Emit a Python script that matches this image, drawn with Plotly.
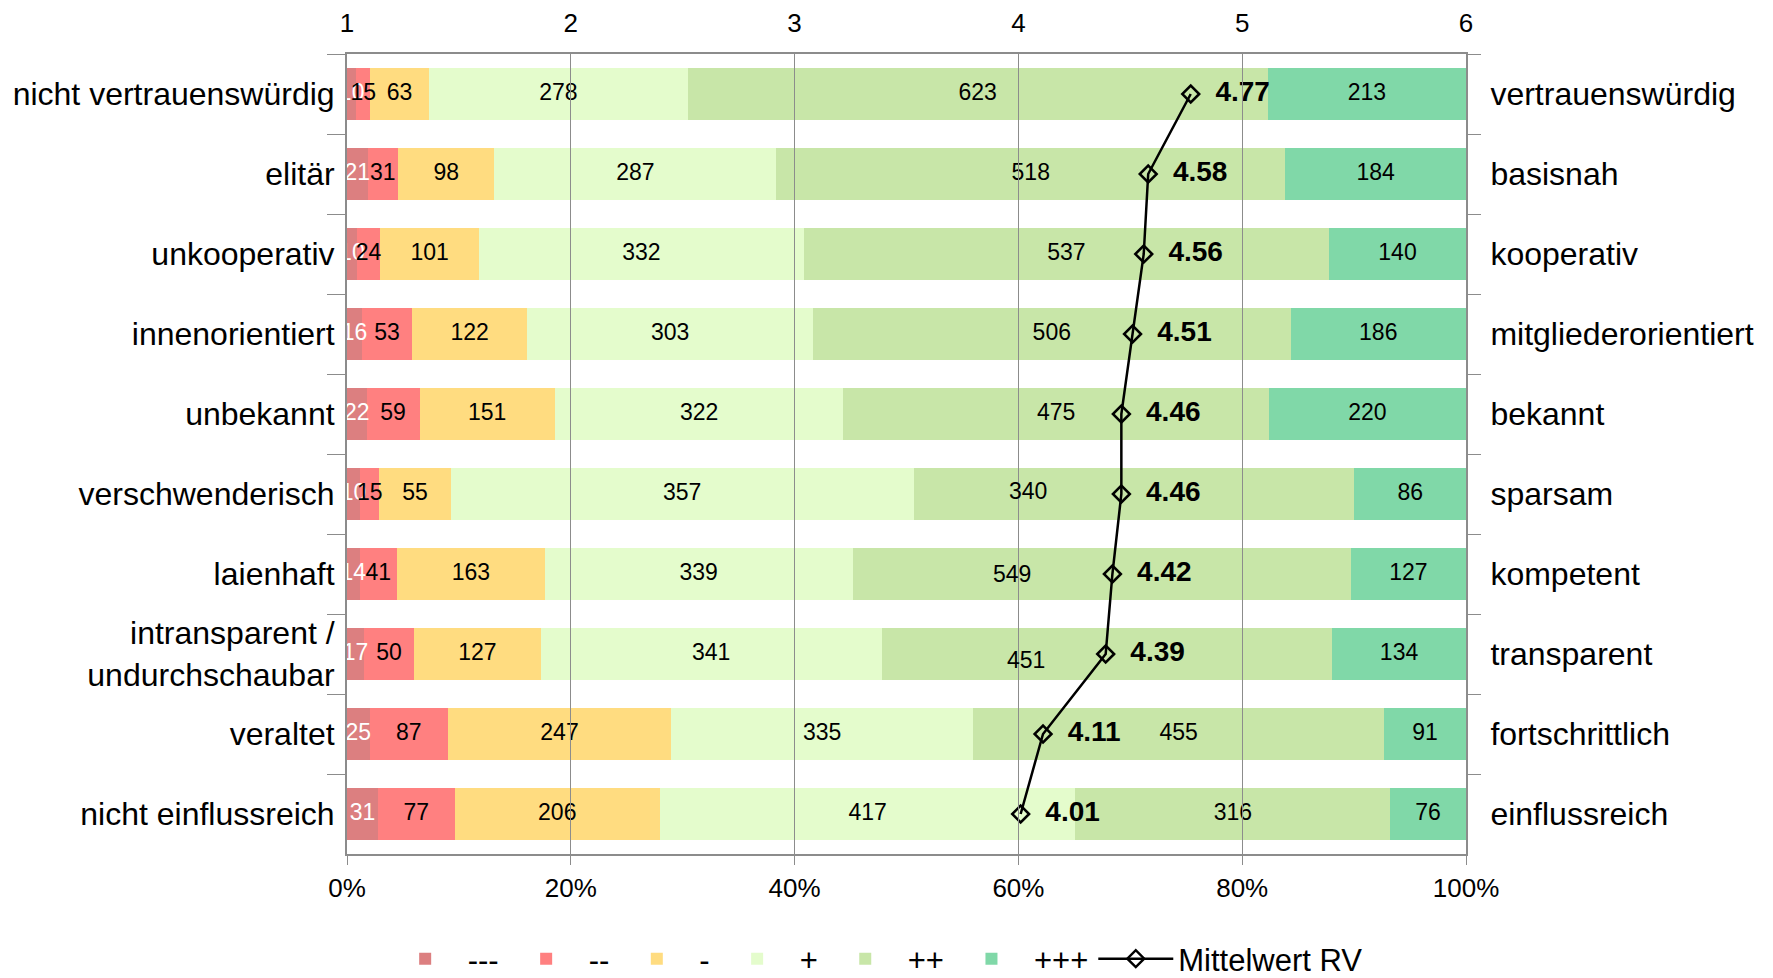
import plotly.graph_objects as go

left_labels = ["nicht vertrauenswürdig", "elitär", "unkooperativ", "innenorientiert",
               "unbekannt", "verschwenderisch", "laienhaft",
               "intransparent /<br>undurchschaubar", "veraltet", "nicht einflussreich"]
right_labels = ["vertrauenswürdig", "basisnah", "kooperativ", "mitgliederorientiert",
                "bekannt", "sparsam", "kompetent", "transparent", "fortschrittlich",
                "einflussreich"]

series_names = ["---", "--", "-", "+", "++", "+++"]
s_mmm = [10, 21, 10, 16, 22, 10, 14, 17, 25, 31]
s_mm = [15, 31, 24, 53, 59, 15, 41, 50, 87, 77]
s_m = [63, 98, 101, 122, 151, 55, 163, 127, 247, 206]
s_p = [278, 287, 332, 303, 322, 357, 339, 341, 335, 417]
s_pp = [623, 518, 537, 506, 475, 340, 549, 451, 455, 316]
s_ppp = [213, 184, 140, 186, 220, 86, 127, 134, 91, 76]
means = [4.77, 4.58, 4.56, 4.51, 4.46, 4.46, 4.42, 4.39, 4.11, 4.01]

pct_ticks = [0, 20, 40, 60, 80, 100]
pct_ticktext = ["0%", "20%", "40%", "60%", "80%", "100%"]
mean_ticks = [1, 2, 3, 4, 5, 6]

# style: colours and label placement tweaks
colors = ["#DC7F80", "#FF8080", "#FFDC80", "#E4FCCC", "#C8E6A8", "#80D8A8"]
text_colors = ["white", "black", "black", "black", "black", "black"]
# labels of the "++" series moved left (as in the original) so they do not collide with mean labels
moved_labels = {5: (0.26, 3), 6: (0.32, 0), 7: (0.32, -6)}   # row index: (fraction of segment, yshift px)

series = [s_mmm, s_mm, s_m, s_p, s_pp, s_ppp]
totals = [sum(v) for v in zip(*series)]
pcts = [[v / t * 100 for v, t in zip(vals, totals)] for vals in series]

FONT = "Liberation Sans, Arial, sans-serif"
LABEL_SIZE = 23
fig = go.Figure()

for name, pct, col in zip(series_names, pcts, colors):
    fig.add_trace(go.Bar(
        name=name, orientation="h", y=left_labels, x=pct,
        marker=dict(color=col, line=dict(width=0)),
        hoverinfo="skip",
    ))

annotations = []
cum = [0.0] * len(left_labels)
for si, (vals, pct, tcol) in enumerate(zip(series, pcts, text_colors)):
    xs, txt = [], []
    for i, (v, p) in enumerate(zip(vals, pct)):
        if si == 4 and i in moved_labels:
            frac, ys = moved_labels[i]
            annotations.append(dict(x=cum[i] + p * frac, y=left_labels[i], xref="x", yref="y",
                                    text=str(v), showarrow=False, yshift=ys,
                                    font=dict(size=LABEL_SIZE, color=tcol, family=FONT)))
            xs.append(cum[i] + p / 2)
            txt.append("")
        else:
            xs.append(cum[i] + p / 2)
            txt.append(str(v))
        cum[i] += p
    fig.add_trace(go.Scatter(
        x=xs, y=left_labels, mode="text", text=txt, textposition="middle center",
        textfont=dict(size=LABEL_SIZE, color=tcol, family=FONT),
        showlegend=False, hoverinfo="skip",
    ))

fig.add_trace(go.Scatter(
    name="Mittelwert RV", x=means, y=left_labels, xaxis="x2", yaxis="y",
    mode="lines+markers+text",
    line=dict(color="black", width=2.5),
    marker=dict(symbol="diamond-open", size=13, color="black", line=dict(width=2.5, color="black")),
    text=["  <b>%.2f</b>" % m for m in means], textposition="middle right",
    textfont=dict(size=28, color="black", family=FONT),
    cliponaxis=False, hoverinfo="skip",
))

# invisible helper trace for right-side category axis
fig.add_trace(go.Scatter(
    x=[50] * len(right_labels), y=right_labels, xaxis="x", yaxis="y2",
    mode="markers", marker=dict(opacity=0), showlegend=False, hoverinfo="skip",
))

M_L, M_R, M_T, M_B = 339, 315, 46, 132
plot_h = 978 - M_T - M_B

fig.update_layout(
    width=1773, height=978,
    margin=dict(l=M_L, r=M_R, t=M_T, b=M_B, autoexpand=False),
    barmode="stack", bargap=0.34,
    plot_bgcolor="white", paper_bgcolor="white",
    font=dict(family=FONT, color="black"),
    annotations=annotations,
    xaxis=dict(range=[0, 100], tickmode="array", tickvals=pct_ticks, ticktext=pct_ticktext,
               showgrid=False, zeroline=False, showline=True, linecolor="#8c8c8c", linewidth=2,
               ticks="outside", ticklen=9, tickcolor="#8c8c8c", automargin=False,
               ticklabelstandoff=1, tickfont=dict(size=26)),
    xaxis2=dict(overlaying="x", side="top", anchor="y", range=[1, 6],
                tickmode="array", tickvals=mean_ticks,
                showgrid=False, zeroline=False, showline=True, linecolor="#8c8c8c", linewidth=2,
                ticks="inside", ticklen=plot_h, tickcolor="#8c8c8c", tickwidth=1,
                layer="above traces", automargin=False, ticklabelstandoff=10,
                tickfont=dict(size=26)),
    yaxis=dict(type="category", categoryarray=left_labels, range=[9.5, -0.5],
               showline=True, linecolor="#8c8c8c", linewidth=2, showgrid=False,
               ticks="outside", tickson="boundaries", ticklen=18, tickcolor="#8c8c8c",
               automargin=False, ticklabelstandoff=4, tickfont=dict(size=32)),
    yaxis2=dict(type="category", categoryarray=right_labels, range=[9.5, -0.5],
                overlaying="y", side="right", anchor="x",
                showline=True, linecolor="#8c8c8c", linewidth=2, showgrid=False,
                ticks="outside", tickson="boundaries", ticklen=13, tickcolor="#8c8c8c",
                automargin=False, ticklabelstandoff=16, tickfont=dict(size=32)),
    legend=dict(orientation="h", x=0.472, xanchor="center", y=-0.165, yanchor="bottom",
                font=dict(size=31), traceorder="normal", itemwidth=75),
)

fig.write_html("out.html")
